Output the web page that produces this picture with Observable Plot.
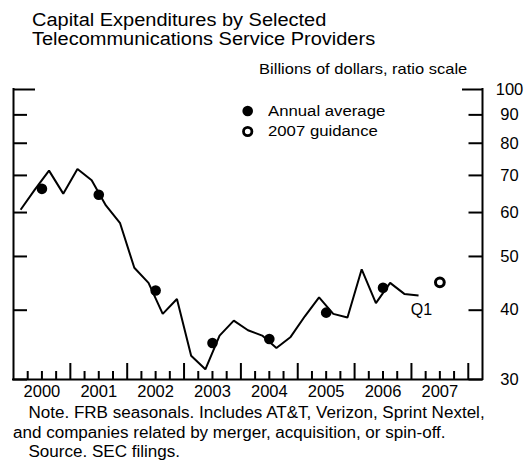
<!DOCTYPE html>
<html>
<head>
<meta charset="utf-8">
<script src="https://cdn.jsdelivr.net/npm/d3@7"></script>
<script src="https://cdn.jsdelivr.net/npm/@observablehq/plot@0.6"></script>
<style>
  body { margin: 0; background: #fff; }
  #wrap { position: relative; width: 525px; height: 462px; overflow: hidden;
          font-family: "Liberation Sans", Arial, Helvetica, sans-serif; color: #000; background: #fff; }
  .t { position: absolute; white-space: nowrap; z-index: 2; }
  #title { left: 31.5px; top: 11px; font-size: 18px; line-height: 19px; transform: scaleX(1.11); transform-origin: left top; }
  #units { right: 58px; top: 61px; font-size: 15px; line-height: 15px; transform: scaleX(1.1); transform-origin: right top; }
  #legend { position: absolute; left: 0; top: 0; z-index: 2; }
  .legtext { font-size: 15.5px; line-height: 20px; transform: scaleX(1.08); transform-origin: left top; }
  #legsym { position: absolute; left: 238px; top: 101px; }
  #note { left: 13px; top: 403px; font-size: 16px; line-height: 19.5px; transform: scaleX(1.065); transform-origin: left top; }
  #chart { position: absolute; left: 0; top: 50px; z-index: 1; }
</style>
</head>
<body>
<div id="wrap">
  <div id="chart"></div>
  <div id="title" class="t"></div>
  <div id="units" class="t"></div>
  <div id="legend"></div>
  <div id="note" class="t"></div>
</div>
<script>
// ---- Data ----
const titleLines = ["Capital Expenditures by Selected", "Telecommunications Service Providers"];
const unitsLabel = "Billions of dollars, ratio scale";
const legendLabels = ["Annual average", "2007 guidance"];
const noteLines = [
  "Note. FRB seasonals. Includes AT&T, Verizon, Sprint Nextel,",
  "and companies related by merger, acquisition, or spin-off.",
  "Source. SEC filings."
];

const quarterYears = [2000,2000,2000,2000, 2001,2001,2001,2001, 2002,2002,2002,2002,
                      2003,2003,2003,2003, 2004,2004,2004,2004, 2005,2005,2005,2005,
                      2006,2006,2006,2006, 2007];
const quarterNums  = [1,2,3,4, 1,2,3,4, 1,2,3,4, 1,2,3,4, 1,2,3,4, 1,2,3,4, 1,2,3,4, 1];
const quarterValues = [60.7,66.0,71.4,64.9, 71.9,68.6,61.8,57.4, 47.7,44.8,39.4,41.9,
                       33.1,31.3,36.0,38.3, 36.8,36.0,34.2,35.8, 39.0,42.2,39.4,38.8,
                       47.4,41.2,44.8,42.8, 42.5];
const lastQuarterLabel = "Q1";

const annualYears  = [2000, 2001, 2002, 2003, 2004, 2005, 2006];
const annualValues = [66.2, 64.6, 43.4, 34.9, 35.5, 39.6, 43.9];

const guidanceYears  = [2007];
const guidanceValues = [44.9];

const labelYears = [2000, 2001, 2002, 2003, 2004, 2005, 2006, 2007];
const yearTicks  = [2001, 2002, 2003, 2004, 2005, 2006, 2007, 2008];
const yTicks     = [30, 40, 50, 60, 70, 80, 90, 100];
const xDomain    = [2000, 2008.25];
const yDomain    = [30, 100];

// ---- Build tables ----
const quarterly = quarterValues.map((v, i) => ({t: quarterYears[i] + (quarterNums[i] - 0.5) / 4, v}));
const annual = annualValues.map((v, i) => ({t: annualYears[i] + 0.5, v}));
const guidance = guidanceValues.map((v, i) => ({t: guidanceYears[i] + 0.5, v}));
const quarterTicks = labelYears.flatMap(y => [y + 0.25, y + 0.5, y + 0.75]);

// ---- HTML text ----
document.getElementById("title").innerHTML = titleLines.map(s => `<div>${s}</div>`).join("");
document.getElementById("units").textContent = unitsLabel;
const leg = document.getElementById("legend");
leg.innerHTML =
  `<svg id="legsym" width="20" height="40" viewBox="0 0 20 40">
     <circle cx="9.7" cy="10" r="5.3" fill="#000"/>
     <circle cx="9.7" cy="30.5" r="4.2" fill="#fff" stroke="#000" stroke-width="2.8"/>
   </svg>
   <div class="t legtext" style="left:268px;top:101px;">${legendLabels[0]}</div>
   <div class="t legtext" style="left:268px;top:121px;">${legendLabels[1]}</div>`;
const esc = s => s.replace(/&/g, "&amp;");
document.getElementById("note").innerHTML =
  `<div style="padding-left:14.5px">${esc(noteLines[0])}</div>
   <div>${esc(noteLines[1])}</div>
   <div style="padding-left:14.5px">${esc(noteLines[2])}</div>`;

// ---- Chart ----
const W = 525, H = 350, mL = 13, mR = 43, mT = 39, mB = 21;
const plotW = W - mL - mR, plotH = H - mT - mB;
const innerTicks = yTicks.filter(v => v < yDomain[1]);
const topTick = [yDomain[1]];

const chart = Plot.plot({
  width: W, height: H,
  marginLeft: mL, marginRight: mR, marginTop: mT, marginBottom: mB,
  style: {fontFamily: '"Liberation Sans", Arial, Helvetica, sans-serif', fontSize: "16.5px", color: "#000", background: "transparent", overflow: "visible"},
  x: {domain: xDomain},
  y: {type: "log", domain: yDomain, axis: null},
  marks: [
    Plot.tickX(quarterTicks, {x: d => d, insetTop: plotH - 8, stroke: "#000", strokeWidth: 2}),
    Plot.tickX(yearTicks, {x: d => d, insetTop: plotH - 16, stroke: "#000", strokeWidth: 2}),
    Plot.tickY(innerTicks, {y: d => d, insetRight: plotW - 14, stroke: "#000", strokeWidth: 2}),
    Plot.tickY(innerTicks, {y: d => d, insetLeft: plotW - 13.5, stroke: "#000", strokeWidth: 2}),
    Plot.tickY(topTick, {y: d => d, insetRight: plotW - 22, stroke: "#000", strokeWidth: 2}),
    Plot.tickY(topTick, {y: d => d, insetLeft: plotW - 20, stroke: "#000", strokeWidth: 2}),
    Plot.ruleX(xDomain, {stroke: "#000", strokeWidth: 2, strokeLinecap: "square"}),
    Plot.ruleY([yDomain[0]], {stroke: "#000", strokeWidth: 2, strokeLinecap: "square"}),
    Plot.text(yTicks, {y: d => d, text: d => String(d), frameAnchor: "right", dx: 27, textAnchor: "middle", fill: "#000", fontSize: 16.5}),
    Plot.axisX({anchor: "bottom", ticks: labelYears.map(y => y + 0.5), tickSize: 0, tickPadding: 6, tickFormat: d => String(Math.floor(d)), label: null}),
    Plot.line(quarterly, {x: "t", y: "v", stroke: "#000", strokeWidth: 2, strokeLinejoin: "miter", strokeLinecap: "butt"}),
    Plot.dot(annual, {x: "t", y: "v", r: 5.3, fill: "#000", stroke: null}),
    Plot.dot(guidance, {x: "t", y: "v", r: 4.4, fill: "#fff", stroke: "#000", strokeWidth: 3}),
    Plot.text([quarterly[quarterly.length - 1]], {x: "t", y: "v", text: () => lastQuarterLabel, dx: 3, dy: 14, fontSize: 16, fill: "#000"})
  ]
});
document.getElementById("chart").appendChild(chart);
</script>
</body>
</html>
